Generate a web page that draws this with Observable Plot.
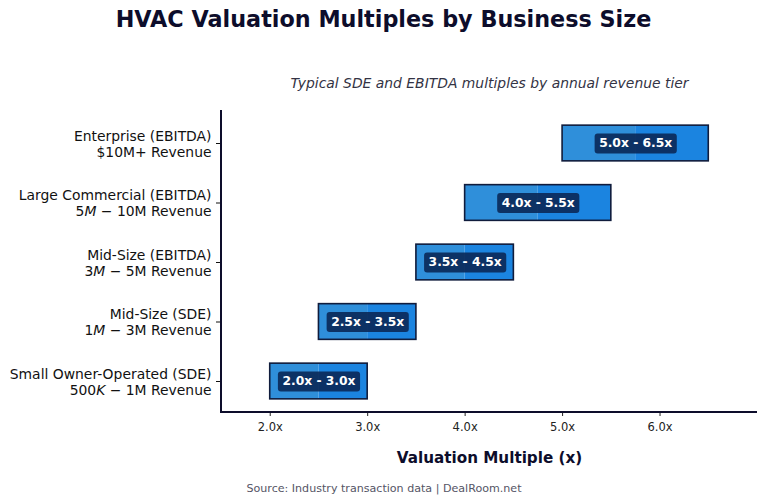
<!DOCTYPE html>
<html><head><meta charset="utf-8">
<script src="https://cdn.jsdelivr.net/npm/d3@7"></script>
<script src="https://cdn.jsdelivr.net/npm/@observablehq/plot@0.6"></script>
<style>body{margin:0;background:#fff;font-family:"DejaVu Sans",sans-serif}</style>
</head><body><div id="chart"></div>
<script>
const tiers = ["Enterprise (EBITDA)", "Large Commercial (EBITDA)", "Mid-Size (EBITDA)", "Mid-Size (SDE)", "Small Owner-Operated (SDE)"];
const revenue = ["$10M+ Revenue", "$5M-$10M Revenue", "$3M-$5M Revenue", "$1M-$3M Revenue", "$500K-$1M Revenue"];
const low = [5.0, 4.0, 3.5, 2.5, 2.0];
const high = [6.5, 5.5, 4.5, 3.5, 3.0];
const xTicks = [2, 3, 4, 5, 6];

const data = tiers.map((t, i) => ({tier: t, rev: revenue[i], low: low[i], high: high[i], mid: (low[i] + high[i]) / 2,
  label: `${low[i].toFixed(1)}x - ${high[i].toFixed(1)}x`}));

const W = 767, H = 502;
const plot = Plot.plot({
  width: W, height: H,
  marginLeft: 221, marginRight: 10, marginTop: 110, marginBottom: 90,
  style: {fontFamily: "DejaVu Sans, sans-serif", background: "#fff"},
  x: {domain: [1.5, 7.0]},
  y: {domain: tiers, paddingInner: 0.4, paddingOuter: 0.2, range: [113.25, 410.75], round: false, label: null},
  marks: [
    Plot.gridX(xTicks, {stroke: "#d9d9d9", strokeOpacity: 1, strokeWidth: 0.8, y1: 110, y2: 412}),
    Plot.barX(data, {y: "tier", x1: "low", x2: "mid", fill: "#2f8fda"}),
    Plot.barX(data, {y: "tier", x1: "mid", x2: "high", fill: "#1b84e0"}),
    Plot.barX(data, {y: "tier", x1: "low", x2: "high", fill: "none", stroke: "#101c3c", strokeWidth: 1.6}),
    Plot.text(data, {y: "tier", x: "mid", text: "label", fill: "white", fontWeight: "bold", fontSize: 12.3}),
    Plot.axisX({ticks: xTicks, tickFormat: d => d.toFixed(1) + "x", tickSize: 4, tickPadding: 6, fontSize: 11.5, color: "#222",
      label: "Valuation Multiple (x)", labelAnchor: "center", labelArrow: "none", labelOffset: 50}),
    Plot.axisY({tickFormat: (d) => d + "\n" + revenue[tiers.indexOf(d)], tickSize: 5, fontSize: 13.9, lineHeight: 1.15, color: "#111", tickPadding: 5, label: null}),
  ]
});
document.getElementById("chart").appendChild(plot);
const svg = d3.select(plot);

// spines
svg.append("line").attr("x1", 221).attr("x2", 221).attr("y1", 110).attr("y2", H - 89)
  .attr("stroke", "#0d0d2b").attr("stroke-width", 2);
svg.append("line").attr("x1", 220).attr("x2", W - 10).attr("y1", H - 90).attr("y2", H - 90)
  .attr("stroke", "#0d0d2b").attr("stroke-width", 2);

// x label style
svg.selectAll("g[aria-label='x-axis label'] text").attr("font-weight", "bold").attr("font-size", 15.2).attr("fill", "#0d0d2b");

// mathtext-style revenue lines
svg.selectAll("g[aria-label='y-axis tick label'] text").each(function () {
  const tsp = this.querySelectorAll("tspan");
  if (tsp.length < 2) return;
  const t = tsp[1];
  const s = t.textContent;
  const m = s.match(/^\$(\d+)([A-Z])-\$(.*)$/);
  if (m) {
    t.textContent = "";
    const a = document.createElementNS("http://www.w3.org/2000/svg", "tspan"); a.textContent = m[1];
    const b = document.createElementNS("http://www.w3.org/2000/svg", "tspan"); b.textContent = m[2]; b.setAttribute("font-style", "italic");
    const c = document.createElementNS("http://www.w3.org/2000/svg", "tspan"); c.textContent = " \u2212 " + m[3];
    t.append(a, b, c);
  }
});

// label boxes
svg.selectAll("g[aria-label='text'] text").each(function () {
  const bb = this.getBBox();
  const r = d3.select(this.parentNode).insert("rect", () => this)
    .attr("x", bb.x - 4.5).attr("y", bb.y + bb.height / 2 - 10).attr("width", bb.width + 9).attr("height", 20)
    .attr("rx", 3).attr("fill", "#0b2a5a").attr("fill-opacity", 0.92);
  const tr = this.getAttribute("transform");
  if (tr) r.attr("transform", tr);
});

// titles
svg.append("text").attr("x", W / 2).attr("y", 27).attr("text-anchor", "middle").attr("font-size", 22.3)
  .attr("font-weight", "bold").attr("fill", "#0d0d2b").text("HVAC Valuation Multiples by Business Size");
svg.append("text").attr("x", 489.5).attr("y", 88).attr("text-anchor", "middle").attr("font-size", 13.9)
  .attr("font-style", "italic").attr("fill", "#333344").text("Typical SDE and EBITDA multiples by annual revenue tier");
svg.append("text").attr("x", 384).attr("y", 492).attr("text-anchor", "middle").attr("font-size", 11.1)
  .attr("fill", "#555566").text("Source: Industry transaction data | DealRoom.net");
</script></body></html>
